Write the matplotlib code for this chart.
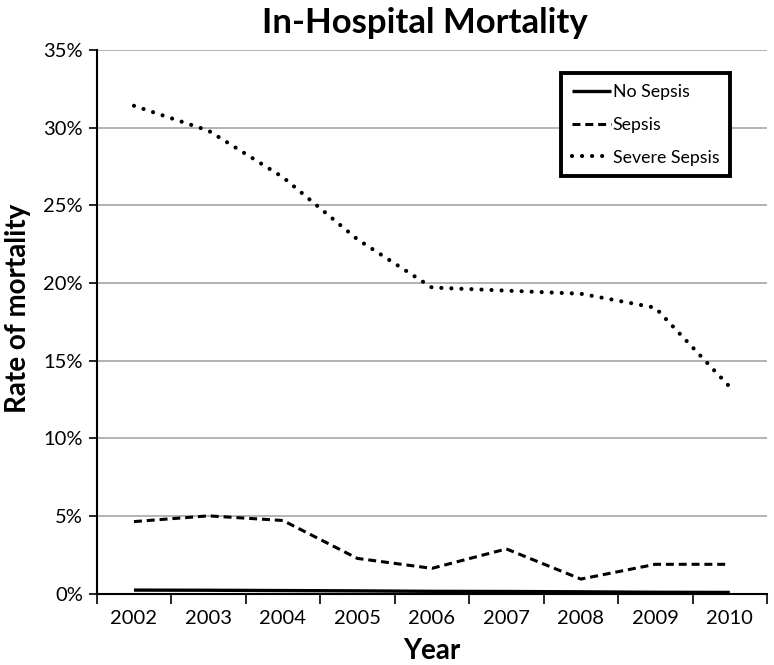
import matplotlib

matplotlib.use("Agg")
import matplotlib.pyplot as plt
from matplotlib.ticker import FixedLocator, PercentFormatter

plt.rcParams["font.family"] = ["Lato", "DejaVu Sans"]

years = ["2002", "2003", "2004", "2005", "2006", "2007", "2008", "2009", "2010"]
no_sepsis = [0.22, 0.21, 0.19, 0.17, 0.14, 0.13, 0.11, 0.08, 0.07]
sepsis = [4.63, 5.0, 4.70, 2.26, 1.62, 2.87, 0.93, 1.88, 1.88]
severe_sepsis = [31.4, 29.8, 26.8, 22.8, 19.7, 19.5, 19.3, 18.4, 13.3]
y_ticks = [0, 5, 10, 15, 20, 25, 30, 35]


def main():
    fig = plt.figure(figsize=(7.74, 6.65), dpi=100)
    ax = fig.add_axes([0.125, 0.1075, 0.866, 0.8175])

    x = list(range(len(years)))
    ax.plot(x, no_sepsis, color="black", lw=2.4, solid_capstyle="butt",
            label="No Sepsis", zorder=3)
    ax.plot(x, sepsis, color="black", lw=2.2, linestyle=(0, (2.6, 1.6)),
            dash_capstyle="butt", label="Sepsis", zorder=3)
    ax.plot(x, severe_sepsis, color="black", lw=3.0, linestyle=(0, (0.01, 2.4)),
            dash_capstyle="round", label="Severe Sepsis", zorder=3)

    ax.set_xlim(-0.5, len(years) - 0.5)
    ax.set_ylim(0, 35)
    ax.set_xticks(x)
    ax.set_xticklabels(years)
    ax.xaxis.set_minor_locator(FixedLocator([i - 0.5 for i in range(len(years) + 1)]))
    ax.tick_params(axis="x", which="major", length=0, pad=12, labelsize=14.5)
    ax.tick_params(axis="x", which="minor", length=7, width=1.2, direction="out")
    ax.set_yticks(y_ticks)
    ax.yaxis.set_major_formatter(PercentFormatter(decimals=0))
    ax.tick_params(axis="y", length=6, width=1.2, direction="out", labelsize=14.5, pad=4)

    ax.grid(axis="y", color="#a6a6a6", lw=1.2, zorder=0)
    ax.set_axisbelow(True)
    for side in ("top", "right"):
        ax.spines[side].set_visible(False)
    for side in ("left", "bottom"):
        ax.spines[side].set_linewidth(1.5)

    ax.set_title("In-Hospital Mortality", fontsize=25, fontweight="bold", pad=12,
                 x=0.49)
    ax.set_xlabel("Year", fontsize=20, fontweight="bold", labelpad=8)
    ax.set_ylabel("Rate of mortality", fontsize=20, fontweight="bold")
    ax.yaxis.set_label_coords(-0.098, 0.525)

    leg = ax.legend(loc="upper right", bbox_to_anchor=(0.945, 0.957), fontsize=12.8,
                    handlelength=2.2, handletextpad=0.1, labelspacing=0.95,
                    borderpad=0.6, borderaxespad=0, fancybox=False, framealpha=1)
    leg.get_frame().set_edgecolor("black")
    leg.get_frame().set_linewidth(2.8)

    fig.savefig("out.png", dpi=100)
    plt.close(fig)


if __name__ == "__main__":
    main()
